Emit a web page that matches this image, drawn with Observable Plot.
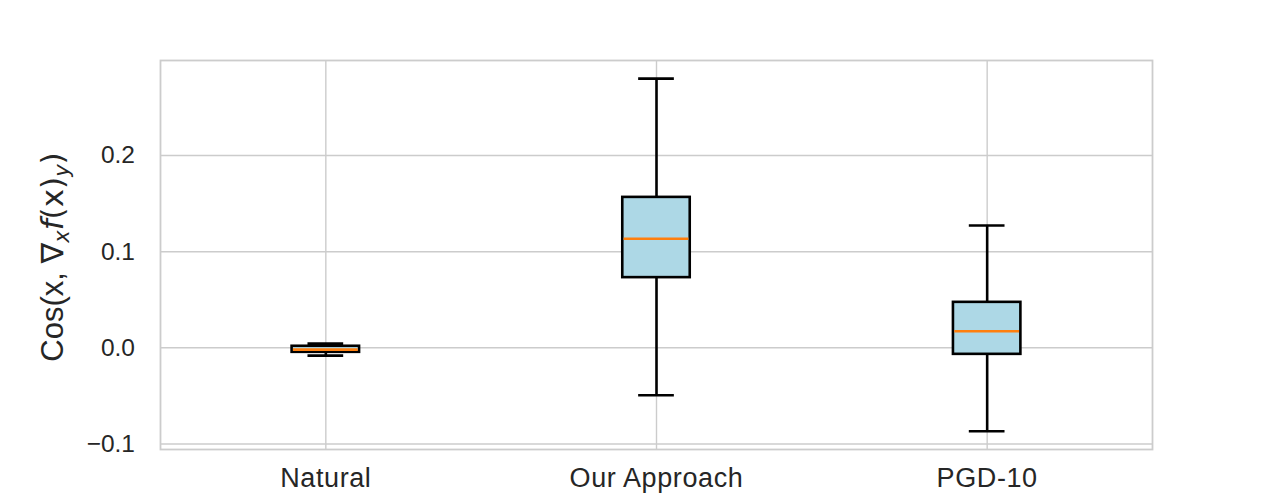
<!DOCTYPE html>
<html>
<head>
<meta charset="utf-8">
<script src="https://cdn.jsdelivr.net/npm/d3@7"></script>
<script src="https://cdn.jsdelivr.net/npm/@observablehq/plot@0.6"></script>
<style>
  html, body { margin: 0; padding: 0; background: #ffffff; }
  #chart { width: 1280px; height: 504px; }
</style>
</head>
<body>
<div id="chart"></div>
<script>
// ---- data ----
const categories  = ["Natural", "Our Approach", "PGD-10"];
const positions   = [1, 2, 3];
const whiskerLow  = [-0.0081, -0.0494, -0.0868];
const quartile1   = [-0.0047,  0.0730, -0.0068];
const medians     = [-0.0019,  0.1135,  0.0172];
const quartile3   = [ 0.0016,  0.1565,  0.0473];
const whiskerHigh = [ 0.0044,  0.2800,  0.1273];
const yTicks      = [-0.1, 0.0, 0.1, 0.2];

const rows = categories.map((c, i) => ({
  cat: c, pos: positions[i],
  lo: whiskerLow[i], q1: quartile1[i], med: medians[i], q3: quartile3[i], hi: whiskerHigh[i]
}));

const boxHalf = 0.102, capHalf = 0.054;
const gridColor = "#cccccc";
const textColor = "#262626";
const lw = 2.6;

const chart = Plot.plot({
  width: 1280,
  height: 504,
  marginLeft: 160,
  marginRight: 128,
  marginTop: 60,
  marginBottom: 55,
  x: { domain: [0.5, 3.5] },
  y: { domain: [-0.1058, 0.2989] },
  style: { fontFamily: "'Liberation Sans', Arial, sans-serif", fontSize: "24px", color: textColor, background: "#ffffff" },
  marks: [
    Plot.gridX(positions, { stroke: gridColor, strokeOpacity: 1, strokeWidth: 1.4 }),
    Plot.gridY(yTicks, { stroke: gridColor, strokeOpacity: 1, strokeWidth: 1.4 }),
    Plot.frame({ stroke: gridColor, strokeWidth: 1.8 }),
    Plot.axisX(positions, { tickSize: 0, tickPadding: 18, tickFormat: (d) => categories[d - 1], label: null, fontSize: 27, fill: textColor }),
    Plot.axisY(yTicks, { tickSize: 0, tickPadding: 25.5, tickFormat: d3.format(".1f"), label: null, fontSize: 24.5, fill: textColor }),
    // whiskers
    Plot.ruleX(rows, { x: "pos", y1: "lo", y2: "q1", stroke: "black", strokeWidth: lw }),
    Plot.ruleX(rows, { x: "pos", y1: "q3", y2: "hi", stroke: "black", strokeWidth: lw }),
    // caps
    Plot.ruleY(rows, { y: "lo", x1: (d) => d.pos - capHalf, x2: (d) => d.pos + capHalf, stroke: "black", strokeWidth: lw }),
    Plot.ruleY(rows, { y: "hi", x1: (d) => d.pos - capHalf, x2: (d) => d.pos + capHalf, stroke: "black", strokeWidth: lw }),
    // boxes
    Plot.rect(rows, { x1: (d) => d.pos - boxHalf, x2: (d) => d.pos + boxHalf, y1: "q1", y2: "q3", fill: "#add8e6", stroke: "black", strokeWidth: lw }),
    // medians
    Plot.ruleY(rows, { y: "med", x1: (d) => d.pos - boxHalf + 0.004, x2: (d) => d.pos + boxHalf - 0.004, stroke: "#ff7f0e", strokeWidth: lw })
  ]
});

document.getElementById("chart").appendChild(chart);

const svg = d3.select(chart);
// slightly wider spacing on the category labels, as in the reference
svg.selectAll("text")
  .filter(function () { return categories.includes(this.textContent); })
  .attr("letter-spacing", "0.6")
  .style("letter-spacing", "0.6px");

// y-axis label with math-style subscripts
const lab = svg.append("text")
  .attr("transform", "translate(63,257) rotate(-90)")
  .attr("text-anchor", "middle")
  .attr("fill", textColor)
  .style("font-family", "'Liberation Sans', Arial, sans-serif")
  .style("font-size", "31px");
lab.append("tspan").text("Cos(x, ");
lab.append("tspan").style("font-family", "'DejaVu Sans', sans-serif").text("\u2207");
lab.append("tspan").style("font-family", "'DejaVu Sans', sans-serif").attr("font-style", "italic").attr("font-size", "21px").attr("dy", "6").text("x");
lab.append("tspan").style("font-family", "'DejaVu Sans', sans-serif").attr("font-style", "italic").attr("dy", "-6").text("f");
lab.append("tspan").style("font-family", "'DejaVu Sans', sans-serif").text("(");
lab.append("tspan").style("font-family", "'DejaVu Sans', sans-serif").text("x");
lab.append("tspan").style("font-family", "'DejaVu Sans', sans-serif").text(")");
lab.append("tspan").style("font-family", "'DejaVu Sans', sans-serif").attr("font-style", "italic").attr("font-size", "21px").attr("dy", "6").text("y");
lab.append("tspan").style("font-family", "'DejaVu Sans', sans-serif").attr("dy", "-6").text(")");
</script>
</body>
</html>
